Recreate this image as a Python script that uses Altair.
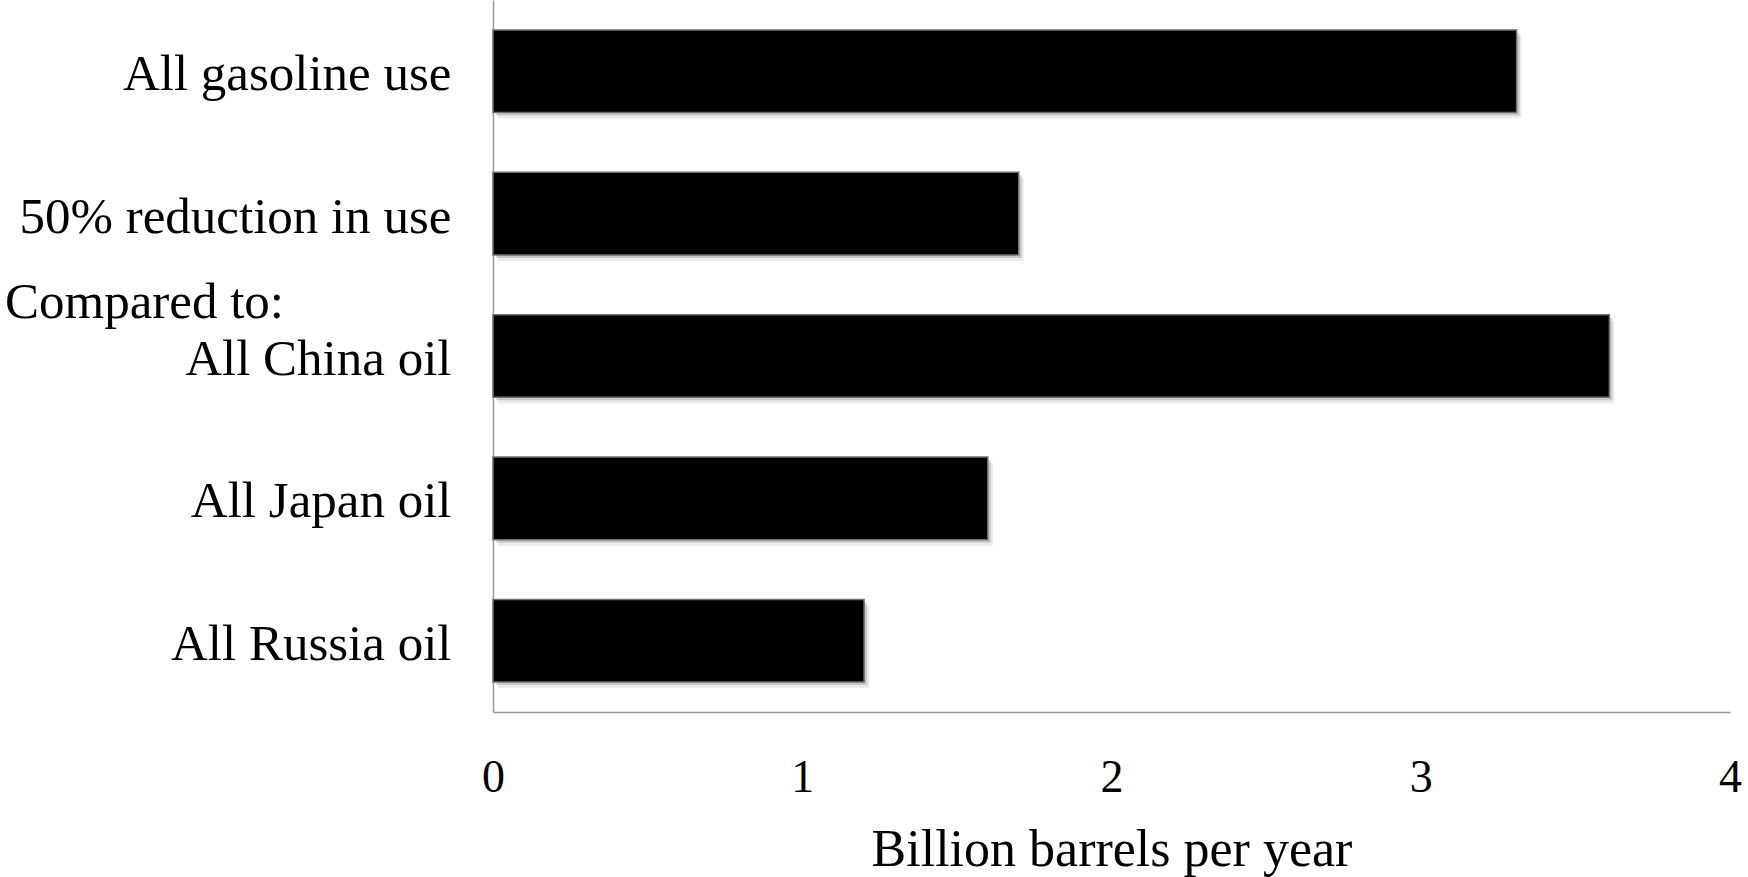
import altair as alt
import pandas as pd

categories = ["All gasoline use", "50% reduction in use", "All China oil", "All Japan oil", "All Russia oil"]
values = [3.31, 1.70, 3.61, 1.60, 1.20]
note_category = ["All China oil"]
note_text = ["Compared to:"]

df = pd.DataFrame({"cat": categories, "val": values})
note_df = pd.DataFrame({"cat": note_category, "txt": note_text})

FONT = "Liberation Serif"

yscale = alt.Scale(domain=categories, paddingInner=0.42, paddingOuter=0.21)
xscale = alt.Scale(domain=[0, 4], nice=False)

y_enc = alt.Y("cat:N", sort=categories, scale=yscale,
              axis=alt.Axis(title=None, labelFont=FONT, labelFontSize=51, labelColor="black",
                            labelLimit=600, labelPadding=42, labelOffset=4, ticks=False,
                            domainColor="#999999", domainWidth=1.5, labelAlign="right"))
x_enc = alt.X("val:Q", scale=xscale,
              axis=alt.Axis(title="Billion barrels per year", values=[0, 1, 2, 3, 4], format="d",
                            labelFont=FONT, labelFontSize=46, labelColor="black", labelFlush=False,
                            labelPadding=43, ticks=False, grid=False, domainColor="#999999",
                            domainWidth=1.5, titleFont=FONT, titleFontSize=52, titleFontWeight="normal",
                            titleColor="black", titlePadding=24))

shadow2 = alt.Chart(df).mark_bar(color="#000000", opacity=0.08, xOffset=5, yOffset=6).encode(
    y=y_enc, x=x_enc)
shadow1 = alt.Chart(df).mark_bar(color="#000000", opacity=0.15, xOffset=3, yOffset=3).encode(
    y=y_enc, x=x_enc)
bars = alt.Chart(df).mark_bar(color="black", stroke="#6f6f6f", strokeWidth=1.5).encode(
    y=y_enc, x=x_enc)

note = alt.Chart(note_df).mark_text(font=FONT, fontSize=51, align="left", baseline="middle",
                                    dy=-53, color="black").encode(
    y=alt.Y("cat:N", sort=categories, scale=yscale),
    x=alt.value(-488),
    text="txt:N")

chart = alt.layer(shadow2, shadow1, bars, note).properties(
    width=1237, height=712,
    autosize=alt.AutoSizeParams(type="none"),
    padding={"left": 493, "top": 0, "right": 18, "bottom": 165},
    background="white",
).configure_view(stroke=None)

chart.save("out.html", embed_options={"renderer": "svg", "actions": False})
